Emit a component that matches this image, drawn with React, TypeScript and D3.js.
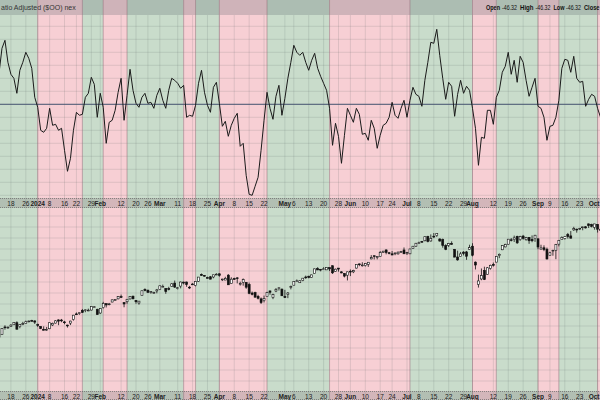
import React from "react";
import * as d3 from "d3";

const dates: string[] = [
  "2023-12-12","2023-12-13","2023-12-14","2023-12-15","2023-12-18","2023-12-19","2023-12-20","2023-12-21","2023-12-22","2023-12-26",
  "2023-12-27","2023-12-28","2023-12-29","2024-01-02","2024-01-03","2024-01-04","2024-01-05","2024-01-08","2024-01-09","2024-01-10",
  "2024-01-11","2024-01-12","2024-01-16","2024-01-17","2024-01-18","2024-01-19","2024-01-22","2024-01-23","2024-01-24","2024-01-25",
  "2024-01-26","2024-01-29","2024-01-30","2024-01-31","2024-02-01","2024-02-02","2024-02-05","2024-02-06","2024-02-07","2024-02-08",
  "2024-02-09","2024-02-12","2024-02-13","2024-02-14","2024-02-15","2024-02-16","2024-02-20","2024-02-21","2024-02-22","2024-02-23",
  "2024-02-26","2024-02-27","2024-02-28","2024-02-29","2024-03-01","2024-03-04","2024-03-05","2024-03-06","2024-03-07","2024-03-08",
  "2024-03-11","2024-03-12","2024-03-13","2024-03-14","2024-03-15","2024-03-18","2024-03-19","2024-03-20","2024-03-21","2024-03-22",
  "2024-03-25","2024-03-26","2024-03-27","2024-03-28","2024-04-01","2024-04-02","2024-04-03","2024-04-04","2024-04-05","2024-04-08",
  "2024-04-09","2024-04-10","2024-04-11","2024-04-12","2024-04-15","2024-04-16","2024-04-17","2024-04-18","2024-04-19","2024-04-22",
  "2024-04-23","2024-04-24","2024-04-25","2024-04-26","2024-04-29","2024-04-30","2024-05-01","2024-05-02","2024-05-03","2024-05-06",
  "2024-05-07","2024-05-08","2024-05-09","2024-05-10","2024-05-13","2024-05-14","2024-05-15","2024-05-16","2024-05-17","2024-05-20",
  "2024-05-21","2024-05-22","2024-05-23","2024-05-24","2024-05-28","2024-05-29","2024-05-30","2024-05-31","2024-06-03","2024-06-04",
  "2024-06-05","2024-06-06","2024-06-07","2024-06-10","2024-06-11","2024-06-12","2024-06-13","2024-06-14","2024-06-17","2024-06-18",
  "2024-06-20","2024-06-21","2024-06-24","2024-06-25","2024-06-26","2024-06-27","2024-06-28","2024-07-01","2024-07-02","2024-07-03",
  "2024-07-05","2024-07-08","2024-07-09","2024-07-10","2024-07-11","2024-07-12","2024-07-15","2024-07-16","2024-07-17","2024-07-18",
  "2024-07-19","2024-07-22","2024-07-23","2024-07-24","2024-07-25","2024-07-26","2024-07-29","2024-07-30","2024-07-31","2024-08-01",
  "2024-08-02","2024-08-05","2024-08-06","2024-08-07","2024-08-08","2024-08-09","2024-08-12","2024-08-13","2024-08-14","2024-08-15",
  "2024-08-16","2024-08-19","2024-08-20","2024-08-21","2024-08-22","2024-08-23","2024-08-26","2024-08-27","2024-08-28","2024-08-29",
  "2024-08-30","2024-09-03","2024-09-04","2024-09-05","2024-09-06","2024-09-09","2024-09-10","2024-09-11","2024-09-12","2024-09-13",
  "2024-09-16","2024-09-17","2024-09-18","2024-09-19","2024-09-20","2024-09-23","2024-09-24","2024-09-25","2024-09-26","2024-09-27",
  "2024-09-30","2024-10-01","2024-10-02"
];

const oscillator: number[] = [
  31,56,64,42,30,26,11,34,42,52,
  46,36,7,-3,-26,-28,-24,-4,-21,-20,
  -26,-24,-46,-67,-54,-26,-8,-11,-10,7,
  11,27,20,-13,11,-3,-39,-18,-16,-6,
  12,26,-16,9,35,14,1,-3,7,11,
  1,2,-4,9,16,4,-4,14,26,24,
  21,16,19,-13,-11,-12,-1,21,34,12,
  -1,-8,17,22,1,-22,-17,-32,-21,-14,
  -9,-42,-39,-71,-90,-91,-82,-73,-46,-16,
  12,-4,-15,8,19,-11,6,26,42,59,
  52,49,52,42,34,44,51,36,28,21,
  14,-4,-41,-19,-32,-59,-31,-4,-11,-18,
  -4,-10,-30,-29,-36,-16,-24,-44,-31,-21,
  -19,-13,2,-11,-14,-4,4,-13,4,17,
  10,8,-2,24,42,62,61,75,49,26,
  5,22,18,-12,10,24,11,18,14,-4,
  -24,-61,-33,-34,-6,-6,-20,7,14,32,
  38,52,30,44,22,48,42,24,8,17,
  26,-2,-4,-13,-36,-22,-21,-13,4,36,
  45,44,32,48,26,22,23,-2,5,10,
  8,-4,-13
];

const opens: number[] = [
  4618,4647,4721,4714,4726,4743,4764,4724,4754,4758,4773,4786,4782,4745,4726,4698,4690,4703,4741,4760,
  4792,4791,4772,4740,4760,4796,4853,4856,4888,4886,4888,4892,4925,4899,4862,4916,4957,4951,4973,4995,
  5005,5027,4967,4976,5004,5032,4989,4963,5039,5100,5093,5075,5067,5085,5098,5131,5110,5108,5132,5164,
  5111,5134,5174,5175,5123,5155,5140,5182,5253,5242,5219,5228,5226,5248,5258,5205,5195,5244,5159,5211,
  5217,5160,5172,5172,5150,5064,5068,5031,5005,4987,5028,5085,5020,5084,5114,5103,5030,5049,5122,5143,
  5187,5168,5190,5226,5234,5221,5263,5310,5304,5305,5298,5320,5340,5282,5316,5278,5261,5244,5284,5278,
  5316,5358,5343,5341,5354,5409,5441,5424,5432,5476,5499,5471,5460,5460,5460,5474,5499,5471,5460,5514,
  5537,5572,5585,5592,5635,5590,5638,5644,5610,5603,5543,5545,5566,5505,5428,5433,5477,5479,5505,5537,
  5376,5151,5206,5293,5253,5312,5354,5376,5442,5501,5530,5557,5602,5603,5637,5603,5639,5602,5627,5607,
  5613,5612,5507,5521,5507,5443,5491,5496,5558,5603,5615,5655,5641,5702,5709,5711,5727,5733,5762,5755,
  5727,5758,5698
];
const highs: number[] = [
  4651,4709,4738,4726,4749,4768,4778,4748,4773,4785,4785,4793,4788,4755,4729,4727,4721,4764,4765,4791,
  4798,4802,4783,4744,4785,4843,4868,4866,4903,4898,4906,4929,4931,4906,4906,4975,4957,4964,4999,5000,
  5031,5048,4971,5002,5033,5038,4993,4983,5087,5111,5097,5081,5077,5105,5140,5149,5114,5127,5165,5190,
  5125,5180,5179,5180,5136,5164,5180,5225,5261,5246,5229,5236,5249,5264,5263,5208,5228,5256,5223,5219,
  5225,5178,5211,5175,5169,5079,5077,5046,5019,5038,5076,5089,5057,5114,5123,5110,5096,5074,5139,5181,
  5201,5192,5215,5240,5238,5250,5311,5325,5305,5325,5323,5324,5341,5311,5316,5283,5265,5280,5302,5299,
  5354,5362,5375,5363,5375,5447,5442,5433,5489,5490,5506,5479,5489,5472,5483,5490,5524,5480,5510,5539,
  5570,5583,5590,5635,5642,5656,5670,5667,5616,5614,5557,5570,5586,5509,5492,5479,5487,5489,5552,5567,
  5383,5250,5312,5330,5327,5351,5372,5435,5464,5546,5562,5609,5620,5644,5643,5642,5651,5631,5628,5646,
  5651,5612,5552,5546,5523,5481,5501,5560,5600,5636,5637,5671,5690,5733,5715,5722,5735,5741,5767,5764,
  5763,5758,5720
];
const lows: number[] = [
  4612,4643,4694,4703,4721,4743,4697,4708,4739,4758,4768,4780,4751,4722,4699,4687,4682,4699,4730,4756,
  4739,4769,4748,4715,4740,4785,4844,4844,4862,4870,4881,4887,4916,4845,4853,4907,4918,4939,4970,4988,
  5000,5016,4920,4956,4999,4999,4956,4946,5038,5081,5068,5057,5058,5061,5094,5127,5056,5091,5128,5115,
  5100,5111,5151,5127,5104,5149,5131,5176,5240,5230,5216,5203,5213,5246,5229,5185,5195,5146,5157,5197,
  5161,5139,5138,5107,5052,5040,5018,4999,4953,4969,5028,5047,5002,5073,5089,5035,5013,5012,5101,5142,
  5181,5166,5183,5207,5212,5218,5263,5296,5283,5302,5297,5286,5256,5279,5280,5263,5222,5191,5235,5265,
  5311,5335,5331,5331,5328,5404,5403,5404,5429,5469,5455,5455,5447,5446,5451,5470,5460,5448,5457,5510,
  5531,5563,5574,5586,5576,5583,5619,5631,5584,5522,5497,5528,5553,5425,5390,5433,5444,5399,5504,5434,
  5302,5119,5193,5195,5249,5300,5331,5376,5416,5497,5525,5554,5585,5580,5560,5591,5603,5593,5561,5577,
  5581,5507,5504,5487,5402,5443,5441,5406,5535,5602,5604,5614,5615,5692,5674,5701,5698,5715,5721,5727,
  5704,5675,5675
];
const closes: number[] = [
  4644,4707,4719,4719,4740,4768,4698,4746,4755,4774,4781,4783,4770,4743,4705,4688,4697,4764,4757,4783,
  4780,4784,4766,4739,4780,4840,4851,4865,4868,4894,4891,4928,4925,4846,4906,4959,4943,4954,4995,4998,
  5027,5022,4953,5001,5030,5006,4976,4982,5087,5089,5070,5078,5070,5096,5137,5131,5079,5105,5157,5124,
  5117,5175,5165,5150,5117,5149,5179,5225,5241,5234,5218,5204,5248,5254,5243,5205,5211,5147,5204,5202,
  5209,5161,5199,5123,5061,5051,5022,5011,4967,5010,5070,5072,5048,5100,5116,5036,5018,5064,5128,5181,
  5187,5188,5214,5223,5221,5247,5308,5297,5303,5308,5321,5307,5268,5305,5306,5267,5235,5278,5283,5291,
  5354,5352,5347,5361,5375,5421,5434,5431,5473,5487,5473,5465,5448,5469,5477,5483,5460,5475,5509,5537,
  5567,5572,5577,5633,5585,5615,5631,5667,5589,5545,5505,5564,5555,5427,5399,5459,5464,5436,5522,5446,
  5347,5186,5240,5199,5319,5344,5344,5434,5455,5543,5554,5608,5597,5621,5571,5634,5616,5625,5592,5592,
  5648,5529,5520,5503,5408,5471,5496,5554,5596,5626,5633,5634,5618,5714,5703,5718,5732,5722,5745,5738,
  5762,5709,5709
];

// bands shaded red (other spans green)
const redStarts: string[] = ["2024-01-02","2024-02-02","2024-03-13","2024-04-01","2024-05-22","2024-08-01","2024-09-03","2024-10-01"];
const redEnds: string[] = ["2024-01-24","2024-02-14","2024-03-19","2024-04-23","2024-07-02","2024-08-13","2024-09-12","2024-10-02"];

const tickDates: string[] = [
  "2023-12-18","2023-12-26","2024-01-02","2024-01-08","2024-01-16","2024-01-22","2024-01-29","2024-02-01","2024-02-12","2024-02-20",
  "2024-02-26","2024-03-01","2024-03-11","2024-03-18","2024-03-25","2024-04-01","2024-04-08","2024-04-15","2024-04-22","2024-05-01",
  "2024-05-06","2024-05-13","2024-05-20","2024-05-28","2024-06-03","2024-06-10","2024-06-17","2024-06-24","2024-07-01","2024-07-08",
  "2024-07-15","2024-07-22","2024-07-29","2024-08-01","2024-08-12","2024-08-19","2024-08-26","2024-09-03","2024-09-09","2024-09-16",
  "2024-09-23","2024-10-01"
];
const tickLabels: string[] = [
  "18","26","2024","8","16","22","29","Feb","12","20",
  "26","Mar","11","18","25","Apr","8","15","22","May",
  "6","13","20","28","Jun","10","17","24","Jul","8",
  "15","22","29","Aug","12","19","26","Sep","9","16",
  "23","Oct"
];
const boldLabels: string[] = ["2024","Feb","Mar","Apr","May","Jun","Jul","Aug","Sep","Oct"];

const titleText = "atio Adjusted ($OO) nex";
const headerNames: string[] = ["Open", "High", "Low", "Close"];
const headerValues: string[] = ["-46.32", "-46.32", "-46.32", ""];

const GREEN = "#c9dccb";
const RED = "#f7cfd4";

export default function App() {
  const W = 600, H = 400;
  const step = 2.978;
  const x = d3.scalePoint<string>().domain(dates).range([-1, -1 + step * (dates.length - 1)]);
  const yO = d3.scaleLinear().domain([-100, 100]).range([204.3, 4.3]);
  const yP = d3.scaleLinear().domain([4074, 5923]).range([391, 208]);
  const X = (d: string) => x(d) as number;

  const line = d3.line<number>().x((_, i) => X(dates[i])).y((d) => yO(d));

  const bands: { x0: number; x1: number; red: boolean }[] = [];
  let cur = -10;
  redStarts.forEach((s, k) => {
    const a = X(s);
    const b = k === redStarts.length - 1 ? W + 10 : X(redEnds[k]);
    bands.push({ x0: cur, x1: a, red: false });
    bands.push({ x0: a, x1: b, red: true });
    cur = b;
  });
  if (cur < W) bands.push({ x0: cur, x1: W + 10, red: false });

  const oscGrid = d3.range(-7, 8).map((k) => yO(0) + k * 13).filter((v) => v > 15 && v < 197);
  const priceGrid = d3.range(0, 20).map((k) => 216 + k * 11).filter((v) => v < 391);

  const bodyW = 2;
  // header word layout: [x, width] for names and values
  const nameLayout: [number, number][] = [[486, 14], [520, 13.5], [553.5, 11], [584, 15.5]];
  const valLayout: [number, number][] = [[502, 15], [535.5, 15], [566, 15], [0, 0]];

  return (
    <svg width={W} height={H} style={{ position: "fixed", left: 0, top: 0, background: "#fff" }}
      fontFamily="'Liberation Sans', Arial, sans-serif">
      {bands.map((b, i) => (
        <rect key={"b" + i} x={b.x0} y={0} width={b.x1 - b.x0} height={H} fill={b.red ? RED : GREEN} />
      ))}
      <rect x={0} y={0} width={W} height={15} fill="rgba(70,80,90,0.22)" />
      {tickDates.map((d, i) => (
        <line key={"gv" + i} x1={X(d)} x2={X(d)} y1={15} y2={H} stroke="rgba(90,100,100,0.16)" strokeWidth={1} />
      ))}
      {oscGrid.map((y, i) => (
        <line key={"go" + i} x1={0} x2={W} y1={y} y2={y} stroke="rgba(90,100,100,0.16)" strokeWidth={1} />
      ))}
      {priceGrid.map((y, i) => (
        <line key={"gp" + i} x1={0} x2={W} y1={y} y2={y} stroke="rgba(90,100,100,0.16)" strokeWidth={1} />
      ))}
      {bands.slice(1).map((b, i) => (
        <line key={"be" + i} x1={b.x0} x2={b.x0} y1={0} y2={H} stroke="rgba(150,110,120,0.55)" strokeWidth={1} />
      ))}
      {[198, 391].map((y0, i) => (
        <g key={"ax" + i}>
          <rect x={0} y={y0} width={W} height={i === 0 ? 10 : 9} fill="rgba(120,120,120,0.28)" />
          <line x1={0} x2={W} y1={y0 + 0.5} y2={y0 + 0.5} stroke="rgba(90,90,90,0.6)" strokeDasharray="1,1" />
          <line x1={0} x2={W} y1={y0 + (i === 0 ? 9.5 : 8.5)} y2={y0 + (i === 0 ? 9.5 : 8.5)} stroke="rgba(90,90,90,0.6)" strokeDasharray="1,1" />
        </g>
      ))}
      {[203.5, 396].map((ty, j) =>
        tickDates.map((d, i) => {
          const tx = X(d);
          const nearEdge = tx > W - 8;
          return (
            <text key={"tl" + j + "-" + i} x={nearEdge ? W - 0.5 : tx} y={ty} fontSize={6.5}
              textAnchor={nearEdge ? "end" : "middle"} dominantBaseline="central"
              fill="#222" fontWeight={boldLabels.includes(tickLabels[i]) ? "bold" : "normal"}>
              {tickLabels[i]}
            </text>
          );
        })
      )}
      <text x={1} y={10} fontSize={7} fill="#333">{titleText}</text>
      {headerNames.map((n, i) => (
        <g key={n}>
          <text x={nameLayout[i][0]} y={10} fontSize={6.3} fontWeight="bold" fill="#111"
            textLength={nameLayout[i][1]} lengthAdjust="spacingAndGlyphs">{n}</text>
          {headerValues[i] && (
            <text x={valLayout[i][0]} y={10} fontSize={6.3} fill="#111"
              textLength={valLayout[i][1]} lengthAdjust="spacingAndGlyphs">{headerValues[i]}</text>
          )}
        </g>
      ))}
      <line x1={0} x2={W} y1={yO(0)} y2={yO(0)} stroke="#4a5873" strokeWidth={1} />
      <path d={line(oscillator) || ""} fill="none" stroke="#1a1a1a" strokeWidth={1} />
      {dates.map((d, i) => {
        const cx = X(d);
        const o = opens[i], c = closes[i], h = highs[i], l = lows[i];
        const top = yP(Math.max(o, c)), bot = yP(Math.min(o, c));
        const up = c >= o;
        return (
          <g key={"c" + i}>
            <line x1={cx} x2={cx} y1={yP(h)} y2={yP(l)} stroke="#111" strokeWidth={0.8} />
            <rect x={cx - bodyW / 2} y={top} width={bodyW} height={Math.max(bot - top, 0.8)}
              fill={up ? "#fff" : "#111"} stroke="#111" strokeWidth={0.6} />
          </g>
        );
      })}
    </svg>
  );
}
